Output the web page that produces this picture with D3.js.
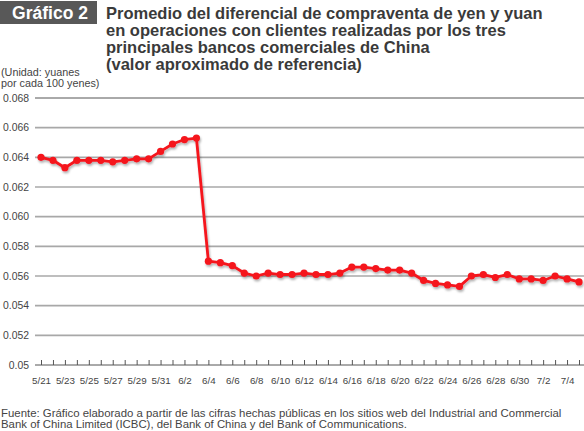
<!DOCTYPE html>
<html lang="es">
<head>
<meta charset="UTF-8">
<title>Gráfico 2</title>
<script src="https://d3js.org/d3.v7.min.js"></script>
<style>
  body { margin: 0; background: #fff; font-family: 'Liberation Sans', Arial, sans-serif; }
  svg text { fill: #444; }
</style>
</head>
<body>
<svg id="chart" width="584" height="431"></svg>
<script>
// daily dates 5/21 .. 7/5
const dates = [
  "5/21","5/22","5/23","5/24","5/25","5/26","5/27","5/28","5/29","5/30","5/31",
  "6/1","6/2","6/3","6/4","6/5","6/6","6/7","6/8","6/9","6/10",
  "6/11","6/12","6/13","6/14","6/15","6/16","6/17","6/18","6/19","6/20",
  "6/21","6/22","6/23","6/24","6/25","6/26","6/27","6/28","6/29","6/30",
  "7/1","7/2","7/3","7/4","7/5"
];
const spread = [
  0.0640,0.0638,0.0633,0.0638,0.0638,0.0638,0.0637,0.0638,0.0639,0.0639,0.0644,
  0.0649,0.0652,0.0653,0.0570,0.0569,0.0567,0.0562,0.0560,0.0562,0.0561,
  0.0561,0.0562,0.0561,0.0561,0.0562,0.0566,0.0566,0.0565,0.0564,0.0564,
  0.0562,0.0557,0.0555,0.0554,0.0553,0.0560,0.0561,0.0559,0.0561,0.0558,
  0.0558,0.0557,0.0560,0.0558,0.0556
];
const yTicks = [0.05,0.052,0.054,0.056,0.058,0.060,0.062,0.064,0.066,0.068];
const yTickLabels = ["0.05","0.052","0.054","0.056","0.058","0.060","0.062","0.064","0.066","0.068"];

const titleLines = [
  "Promedio del diferencial de compraventa de yen y yuan",
  "en operaciones con clientes realizadas por los tres",
  "principales bancos comerciales de China",
  "(valor aproximado de referencia)"
];
const unitLines = ["(Unidad: yuanes", "por cada 100 yenes)"];
const sourceLines = [
  "Fuente: Gráfico elaborado a partir de las cifras hechas públicas en los sitios web del Industrial and Commercial",
  "Bank of China Limited (ICBC), del Bank of China y del Bank of Communications."
];

const svg = d3.select("#chart");
const plot = { left: 35, right: 584, top: 98, bottom: 365 };

const x = d3.scalePoint().domain(dates).range([41, 579]);
const y = d3.scaleLinear().domain([0.05, 0.068]).range([plot.bottom, plot.top]);

const defs = svg.append("defs");
const shadow = defs.append("filter").attr("id", "shadow")
  .attr("x", "-10%").attr("y", "-10%").attr("width", "120%").attr("height", "130%");
shadow.append("feDropShadow").attr("dx", 1).attr("dy", 2).attr("stdDeviation", 1.2)
  .attr("flood-color", "#000").attr("flood-opacity", 0.3);

// header
svg.append("rect").attr("x", 0).attr("y", 1).attr("width", 97).attr("height", 23).attr("fill", "#585858");
svg.append("text").attr("x", 50).attr("y", 19).attr("text-anchor", "middle")
  .style("fill", "#fff").attr("font-size", 17.5).attr("font-weight", "bold").text("Gráfico 2");

svg.append("g").selectAll("text").data(titleLines).enter().append("text")
  .attr("x", 106).attr("y", (d, i) => 18.5 + i * 17.2)
  .attr("font-size", 16.5).attr("font-weight", "bold").style("fill", "#3a3a3a")
  .text(d => d);

svg.append("g").selectAll("text").data(unitLines).enter().append("text")
  .attr("x", 1).attr("y", (d, i) => 76 + i * 11)
  .attr("font-size", 10.8).text(d => d);

// grid
svg.append("g").selectAll("line").data(yTicks).enter().append("line")
  .attr("x1", plot.left).attr("x2", plot.right)
  .attr("y1", d => y(d)).attr("y2", d => y(d))
  .attr("stroke", (d, i) => (i === 0 || i === yTicks.length - 1) ? "#555" : "#a8a8a8")
  .attr("stroke-width", (d, i) => (i === 0 || i === yTicks.length - 1) ? 1 : 1.6);

// y axis labels
const yAxis = d3.axisLeft(y).tickValues(yTicks)
  .tickFormat((d, i) => yTickLabels[i]).tickSize(0).tickPadding(6);
svg.append("g").attr("transform", `translate(${plot.left},0)`).call(yAxis)
  .call(g => g.select(".domain").remove())
  .call(g => g.selectAll("text").attr("font-size", 10.4).attr("font-family", "'Liberation Sans', Arial, sans-serif").style("fill", "#444"));

// x axis
const xAxis = d3.axisBottom(x).tickSizeInner(-5).tickSizeOuter(0).tickPadding(12)
  .tickFormat((d, i) => i % 2 === 0 ? d : "");
svg.append("g").attr("transform", `translate(0,${plot.bottom})`).call(xAxis)
  .call(g => g.select(".domain").remove())
  .call(g => g.selectAll("line").attr("stroke", "#555"))
  .call(g => g.selectAll("text").attr("font-size", 9.8).attr("font-family", "'Liberation Sans', Arial, sans-serif").style("fill", "#444"));

// series
const series = dates.map((d, i) => ({ date: d, v: spread[i] }));
const line = d3.line().x(d => x(d.date)).y(d => y(d.v));
const g = svg.append("g").attr("filter", "url(#shadow)");
g.append("path").datum(series).attr("d", line)
  .attr("fill", "none").attr("stroke", "#f5141e").attr("stroke-width", 2.8)
  .attr("stroke-linejoin", "round");
g.selectAll("circle").data(series).enter().append("circle")
  .attr("cx", d => x(d.date)).attr("cy", d => y(d.v)).attr("r", 3.6)
  .attr("fill", "#f5141e");

// source
svg.append("g").selectAll("text").data(sourceLines).enter().append("text")
  .attr("x", 1).attr("y", (d, i) => 417 + i * 10.8)
  .attr("font-size", 11.4).text(d => d);
</script>
</body>
</html>
